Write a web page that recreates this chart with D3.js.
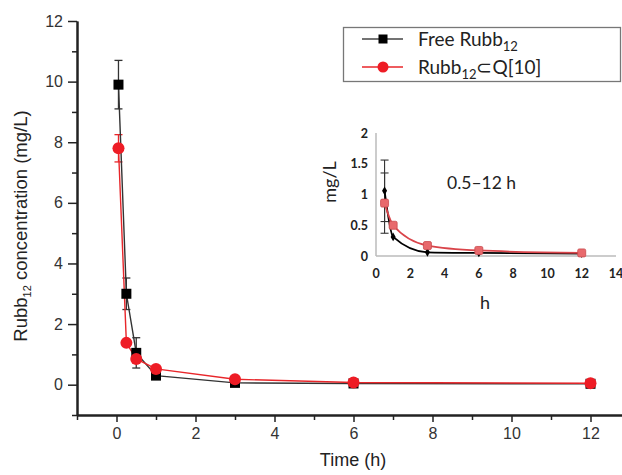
<!DOCTYPE html>
<html>
<head>
<meta charset="utf-8">
<script src="https://cdn.jsdelivr.net/npm/d3@7"></script>
<style>
  html, body { margin: 0; padding: 0; background: #fff; }
  svg { display: block; }
</style>
</head>
<body>
<div id="chart-area"></div>
<script>
const WIDTH = 622;
const HEIGHT = 475;

// main chart data (time in h, concentration in mg/L)
const times = [0.05, 0.25, 0.5, 1, 3, 6, 12];
const freeConc = [9.9, 3.0, 1.05, 0.3, 0.06, 0.04, 0.03];
const freeErr = [0.8, 0.52, 0.5, 0, 0, 0, 0];
const cqConc = [7.8, 1.38, 0.85, 0.52, 0.18, 0.07, 0.05];
const cqErr = [0.45, 0, 0, 0, 0, 0, 0];

const xMajor = [0, 2, 4, 6, 8, 10, 12];
const xMinor = [-1, 1, 3, 5, 7, 9, 11];
const yMajor = [0, 2, 4, 6, 8, 10, 12];
const yMinor = [-1, 1, 3, 5, 7, 9, 11];

// inset data
const insetTimes = [0.5, 1, 3, 6, 12];
const insetFree = [1.06, 0.31, 0.06, 0.05, 0.04];
const insetFreeErr = [0.5, 0, 0, 0, 0];
const insetCQ = [0.86, 0.5, 0.17, 0.09, 0.05];
const insetCQErr = [0.49, 0, 0, 0, 0];
const insetXTicks = [0, 2, 4, 6, 8, 10, 12, 14];
const insetYTicks = [0, 0.5, 1, 1.5, 2];

const seriesNames = ['Free Rubb', 'Rubb'];

main();

function main() {
  const svg = d3.select('#chart-area').append('svg')
    .attr('width', WIDTH)
    .attr('height', HEIGHT);
  drawMain(svg);
  drawInset(svg);
  drawLegend(svg);
}

function drawMain(svg) {
  const x = d3.scaleLinear().domain([-1, 13]).range([77, 630]);
  const y = d3.scaleLinear().domain([-1, 12]).range([415, 21]);
  const g = svg.append('g');

  const font = '"Liberation Sans", Arial, sans-serif';

  // axes
  const xAxisMajor = d3.axisBottom(x).tickValues(xMajor).tickSize(7).tickSizeOuter(0).tickPadding(6);
  const xAxisMinor = d3.axisBottom(x).tickValues(xMinor).tickSize(5).tickSizeOuter(0).tickFormat('');
  const yAxisMajor = d3.axisLeft(y).tickValues(yMajor).tickSize(9).tickSizeOuter(0).tickPadding(5);
  const yAxisMinor = d3.axisLeft(y).tickValues(yMinor).tickSize(5).tickSizeOuter(0).tickFormat('');

  [[xAxisMinor, 'x'], [xAxisMajor, 'x'], [yAxisMinor, 'y'], [yAxisMajor, 'y']].forEach(([ax, k]) => {
    const a = g.append('g')
      .attr('transform', k === 'x' ? `translate(0, ${ y(-1) })` : `translate(${ x(-1) }, 0)`)
      .call(ax);
    a.attr('font-family', font);
    a.select('.domain').attr('stroke', '#222').attr('stroke-width', 2);
    a.selectAll('.tick line').attr('stroke', '#222').attr('stroke-width', 1.5);
    a.selectAll('.tick text')
      .attr('fill', '#333')
      .style('font-family', font)
      .style('font-size', '16px');
  });

  // axis titles
  g.append('text')
    .attr('x', 353)
    .attr('y', 466)
    .attr('text-anchor', 'middle')
    .attr('fill', '#222')
    .style('font-family', font)
    .style('font-size', '18px')
    .text('Time (h)');

  const yl = g.append('text')
    .attr('transform', 'translate(27, 226) rotate(-90)')
    .attr('text-anchor', 'middle')
    .attr('fill', '#222')
    .style('font-family', font)
    .style('font-size', '18.5px');
  yl.append('tspan').text('Rubb');
  yl.append('tspan').attr('dy', 4).style('font-size', '11px').text('12');
  yl.append('tspan').attr('dy', -4).text(' concentration (mg/L)');

  const freeData = times.map((t, i) => ({t, v: freeConc[i], e: freeErr[i]}));
  const cqData = times.map((t, i) => ({t, v: cqConc[i], e: cqErr[i]}));

  const line = d3.line().x(d => x(d.t)).y(d => y(d.v));

  // error bars
  const errs = freeData.filter(d => d.e > 0).map(d => ({...d, c: '#333'}))
    .concat(cqData.filter(d => d.e > 0).map(d => ({...d, c: '#e8262a'})));
  errs.forEach(d => {
    const eg = g.append('g').attr('stroke', d.c).attr('stroke-width', 1.3);
    eg.append('line').attr('x1', x(d.t)).attr('x2', x(d.t)).attr('y1', y(d.v + d.e)).attr('y2', y(d.v - d.e));
    [d.v + d.e, d.v - d.e].forEach(v => {
      eg.append('line').attr('x1', x(d.t) - 4).attr('x2', x(d.t) + 4).attr('y1', y(v)).attr('y2', y(v));
    });
  });

  g.append('path')
    .datum(freeData)
    .attr('d', line)
    .attr('fill', 'none')
    .attr('stroke', '#333')
    .attr('stroke-width', 1.4);

  g.append('path')
    .datum(cqData)
    .attr('d', line)
    .attr('fill', 'none')
    .attr('stroke', '#e8262a')
    .attr('stroke-width', 1.4);

  g.selectAll('rect.free')
    .data(freeData)
    .enter()
    .append('rect')
    .attr('class', 'free')
    .attr('x', d => x(d.t) - 5)
    .attr('y', d => y(d.v) - 5)
    .attr('width', 10)
    .attr('height', 10)
    .attr('fill', '#000');

  g.selectAll('circle.cq')
    .data(cqData)
    .enter()
    .append('circle')
    .attr('class', 'cq')
    .attr('cx', d => x(d.t))
    .attr('cy', d => y(d.v))
    .attr('r', 6)
    .attr('fill', '#ee1c25');
}

function drawInset(svg) {
  const x = d3.scaleLinear().domain([0, 14]).range([376, 616]);
  const y = d3.scaleLinear().domain([0, 2]).range([256, 133]);
  const g = svg.append('g');
  const font = 'Lato, "Open Sans", sans-serif';

  g.append('line').attr('x1', x(0)).attr('x2', x(14)).attr('y1', y(0)).attr('y2', y(0))
    .attr('stroke', '#bbb').attr('stroke-width', 1.5);
  g.append('line').attr('x1', x(0)).attr('x2', x(0)).attr('y1', y(0)).attr('y2', y(2))
    .attr('stroke', '#bbb').attr('stroke-width', 1.5);

  g.selectAll('text.xt')
    .data(insetXTicks)
    .enter()
    .append('text')
    .attr('class', 'xt')
    .attr('x', d => x(d))
    .attr('y', 278)
    .attr('text-anchor', 'middle')
    .attr('fill', '#222')
    .style('font-family', font)
    .style('font-weight', 'bold')
    .style('font-size', '12.5px')
    .text(d => d);

  g.selectAll('text.yt')
    .data(insetYTicks)
    .enter()
    .append('text')
    .attr('class', 'yt')
    .attr('x', 368)
    .attr('y', d => y(d) + 4.5)
    .attr('text-anchor', 'end')
    .attr('fill', '#222')
    .style('font-family', font)
    .style('font-weight', 'bold')
    .style('font-size', '12.5px')
    .text(d => d);

  g.append('text')
    .attr('x', 485)
    .attr('y', 309)
    .attr('text-anchor', 'middle')
    .attr('fill', '#222')
    .style('font-family', font)
    .style('font-size', '18px')
    .text('h');

  g.append('text')
    .attr('transform', 'translate(336, 182) rotate(-90)')
    .attr('text-anchor', 'middle')
    .attr('fill', '#222')
    .style('font-family', font)
    .style('font-size', '18px')
    .text('mg/L');

  g.append('text')
    .attr('x', 447)
    .attr('y', 189)
    .attr('fill', '#222')
    .style('font-family', font)
    .style('font-size', '17.5px')
    .text('0.5–12 h');

  const freeData = insetTimes.map((t, i) => ({t, v: insetFree[i], e: insetFreeErr[i]}));
  const cqData = insetTimes.map((t, i) => ({t, v: insetCQ[i], e: insetCQErr[i]}));
  const line = d3.line().x(d => x(d.t)).y(d => y(d.v)).curve(d3.curveMonotoneX);

  freeData.concat(cqData).filter(d => d.e > 0).forEach(d => {
    const eg = g.append('g').attr('stroke', '#333').attr('stroke-width', 1.1);
    eg.append('line').attr('x1', x(d.t)).attr('x2', x(d.t)).attr('y1', y(d.v + d.e)).attr('y2', y(d.v - d.e));
    [d.v + d.e, d.v - d.e].forEach(v => {
      eg.append('line').attr('x1', x(d.t) - 4).attr('x2', x(d.t) + 4).attr('y1', y(v)).attr('y2', y(v));
    });
  });

  g.append('path')
    .datum(freeData)
    .attr('d', line)
    .attr('fill', 'none')
    .attr('stroke', '#000')
    .attr('stroke-width', 1.8);

  g.append('path')
    .datum(cqData)
    .attr('d', line)
    .attr('fill', 'none')
    .attr('stroke', '#d9444a')
    .attr('stroke-width', 1.8);

  g.selectAll('path.fm')
    .data(freeData)
    .enter()
    .append('path')
    .attr('class', 'fm')
    .attr('transform', d => `translate(${ x(d.t) }, ${ y(d.v) })`)
    .attr('d', d3.symbol(d3.symbolDiamond, 22))
    .attr('fill', '#000');

  g.selectAll('rect.cm')
    .data(cqData)
    .enter()
    .append('rect')
    .attr('class', 'cm')
    .attr('x', d => x(d.t) - 4)
    .attr('y', d => y(d.v) - 4)
    .attr('width', 8)
    .attr('height', 8)
    .attr('rx', 1.5)
    .attr('fill', '#e8696c')
    .attr('stroke', '#c94a4e')
    .attr('stroke-width', 0.8);
}

function drawLegend(svg) {
  const g = svg.append('g');
  const font = 'Lato, "Open Sans", sans-serif';
  g.append('rect')
    .attr('x', 343.5)
    .attr('y', 27.5)
    .attr('width', 277)
    .attr('height', 54)
    .attr('fill', '#fff')
    .attr('stroke', '#777')
    .attr('stroke-width', 1.3);

  const rows = [
    {y: 39, c: '#444', mark: 'square', sub: '12', after: ''},
    {y: 67, c: '#e8262a', mark: 'circle', sub: '12', after: '⊂Q[10]'},
  ];
  rows.forEach((r, i) => {
    g.append('line').attr('x1', 362).attr('x2', 403).attr('y1', r.y).attr('y2', r.y)
      .attr('stroke', r.c).attr('stroke-width', 1.3);
    if (r.mark === 'square') {
      g.append('rect').attr('x', 383 - 4.5).attr('y', r.y - 4.5).attr('width', 9).attr('height', 9).attr('fill', '#000');
    } else {
      g.append('circle').attr('cx', 383).attr('cy', r.y).attr('r', 5.5).attr('fill', '#ee1c25');
    }
    const t = g.append('text')
      .attr('x', 418)
      .attr('y', r.y + 6.5)
      .attr('fill', '#222')
      .style('font-family', font)
      .style('font-size', '19px');
    t.append('tspan').text(seriesNames[i]);
    t.append('tspan').attr('dy', 5).style('font-size', '13px').text(r.sub);
    if (r.after) t.append('tspan').attr('dy', -5).text(r.after);
  });
}
</script>
</body>
</html>
